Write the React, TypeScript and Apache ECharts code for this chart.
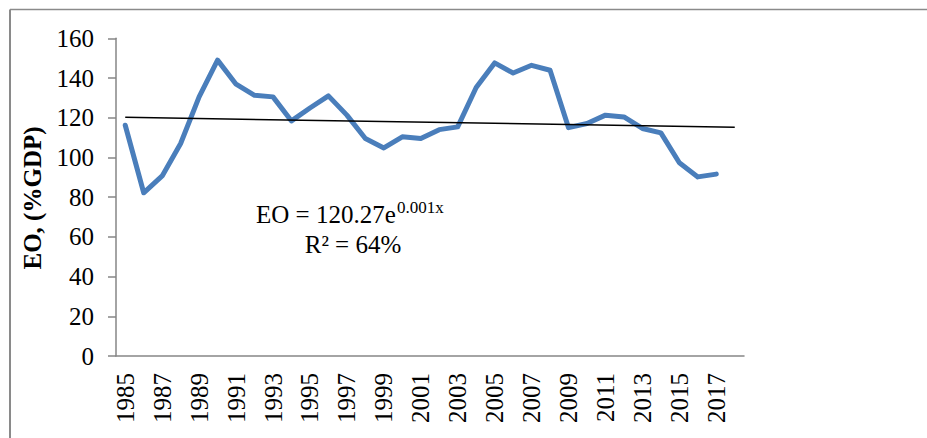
import React, { useEffect, useRef } from "react";
import * as echarts from "echarts";

const years = [
  "1985", "1986", "1987", "1988", "1989", "1990", "1991", "1992", "1993", "1994",
  "1995", "1996", "1997", "1998", "1999", "2000", "2001", "2002", "2003", "2004",
  "2005", "2006", "2007", "2008", "2009", "2010", "2011", "2012", "2013", "2014",
  "2015", "2016", "2017", "2018",
];

const eoValues = [
  116.2, 82.2, 90.7, 107, 130.5, 149, 136.9, 131.3, 130.5, 118.4,
  124.9, 131, 121.3, 109.5, 104.8, 110.4, 109.5, 114, 115.4, 135.2,
  147.6, 142.5, 146.4, 143.9, 115, 117.1, 121.3, 120.4, 114.6, 112.4,
  97.3, 90.2, 91.6,
];

const trendYears = ["1985", "2018"];
const trendValues = [120.2, 115.2];

const yTicks = { min: 0, max: 160, interval: 20 };

const FONT = "'Liberation Serif', 'Times New Roman', serif";
const AXIS_COLOR = "#868686";

export default function App() {
  const ref = useRef<HTMLDivElement>(null);

  useEffect(() => {
    if (!ref.current) return;
    const chart = echarts.init(ref.current, undefined, { renderer: "svg" });
    chart.setOption({
      animation: false,
      backgroundColor: "#ffffff",
      grid: { left: 116, top: 38.3, right: 183, bottom: 82, containLabel: false },
      xAxis: {
        type: "category",
        data: years,
        boundaryGap: true,
        axisLine: { lineStyle: { color: AXIS_COLOR, width: 1.5 } },
        axisTick: { interval: 0, length: 8, lineStyle: { color: AXIS_COLOR, width: 1.5 } },
        axisLabel: {
          interval: 1,
          rotate: 90,
          margin: 17,
          color: "#000",
          fontFamily: FONT,
          fontSize: 25,
        },
        splitLine: { show: false },
      },
      yAxis: {
        type: "value",
        min: yTicks.min,
        max: yTicks.max,
        interval: yTicks.interval,
        axisLine: { show: true, lineStyle: { color: AXIS_COLOR, width: 1.5 } },
        axisTick: { show: true, length: 8, lineStyle: { color: AXIS_COLOR, width: 1.5 } },
        axisLabel: { margin: 22, color: "#000", fontFamily: FONT, fontSize: 25 },
        splitLine: { show: false },
      },
      series: [
        {
          type: "line",
          data: eoValues,
          showSymbol: false,
          symbol: "none",
          lineStyle: { color: "#4a7ebb", width: 5, join: "round", cap: "round" },
          z: 2,
        },
        {
          type: "line",
          data: trendYears.map((y, i) => [y, trendValues[i]]),
          showSymbol: false,
          symbol: "none",
          lineStyle: { color: "#000", width: 1.5 },
          z: 3,
        },
      ],
      graphic: [
        {
          type: "line",
          shape: { x1: 10, y1: 9.5, x2: 927, y2: 9.5 },
          style: { stroke: "#8a8a8a", lineWidth: 1.5 },
        },
        {
          type: "line",
          shape: { x1: 10, y1: 9.5, x2: 10, y2: 438 },
          style: { stroke: "#8a8a8a", lineWidth: 2 },
        },
        {
          type: "text",
          x: 32,
          y: 198,
          rotation: Math.PI / 2,
          style: {
            text: "EO, (%GDP)",
            fontFamily: FONT,
            fontWeight: "bold",
            fontSize: 25,
            fill: "#000",
            align: "center",
            verticalAlign: "middle",
          },
        },
        {
          type: "text",
          x: 256,
          y: 214,
          style: {
            text: "EO = 120.27e",
            fontFamily: FONT,
            fontSize: 25,
            fill: "#000",
            align: "left",
            verticalAlign: "middle",
          },
        },
        {
          type: "text",
          x: 397,
          y: 207,
          style: {
            text: "0.001x",
            fontFamily: FONT,
            fontSize: 17,
            fill: "#000",
            align: "left",
            verticalAlign: "middle",
          },
        },
        {
          type: "text",
          x: 353,
          y: 244,
          style: {
            text: "R² = 64%",
            fontFamily: FONT,
            fontSize: 25,
            fill: "#000",
            align: "center",
            verticalAlign: "middle",
          },
        },
      ],
    });
    return () => chart.dispose();
  }, []);

  return (
    <div
      ref={ref}
      style={{ position: "fixed", left: 0, top: 0, width: 927, height: 438 }}
    />
  );
}
